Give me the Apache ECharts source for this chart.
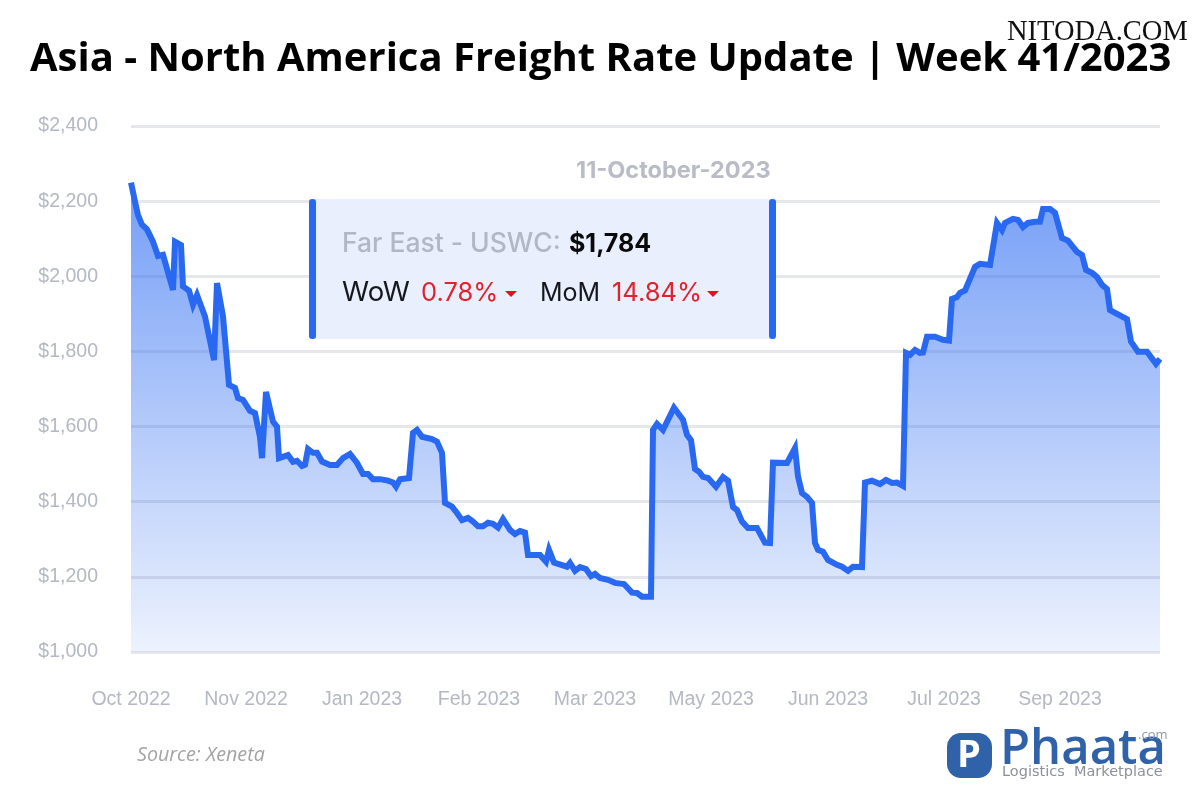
<!DOCTYPE html>
<html>
<head>
<meta charset="utf-8">
<title>Asia - North America Freight Rate Update</title>
<script src="https://cdn.jsdelivr.net/npm/echarts@6/dist/echarts.min.js"></script>
<style>
  html, body { margin: 0; background: #fff; }
  #chart { width: 1200px; height: 800px; }
</style>
</head>
<body>
<div id="chart"></div>
<script>
// position along the x axis (trading sessions since Oct 2022), one per rate
const sessions = [
  0,1,1.75,2.75,4,5.5,6.75,8,10.5,11,12.5,13,14.5,15.5,16.5,18.5,20.75,21.5,23,24.5,
  26,26.75,28,29.75,31,32.25,32.75,33.25,33.75,35.5,36.5,37,39.25,40.5,41.5,42.75,43.5,44.25,45.5,46.5,
  47.75,49.75,51.5,53,54.75,56.5,58,59.25,60.5,62.25,64.25,65.5,66.25,67.25,69.5,70.5,71.5,72.75,75.25,76.5,
  77.75,78.5,79,80.25,81.5,82.75,84.25,85.5,86.75,88,89.25,90.5,91.75,93,94.75,96,97.25,98.5,99.25,102.25,
  103.75,104.5,105.75,109,109.75,111,112.25,113.75,115,116,117.25,119.25,121,123.25,125.25,126.5,127.75,130,130.5,131.5,
  133,135.75,138,139,140,141,142,143,144.25,146.25,148,149.25,150.5,151.5,152.75,154.25,156.5,158.5,159.75,160.5,
  164,166,166.75,167.75,169,170.25,171,171.75,173,174.25,176.5,177.75,179.25,180.5,182.75,183.5,185.25,187.25,188.75,190.25,
  191.5,193,193.75,194.75,196,197.25,198,199,201,203,204.5,205.25,206.5,207.25,208.5,211,212.25,214.75,216.5,217.75,
  218.5,220.5,221.75,223,224.25,226,227.25,228,229.75,231,232.75,234.25,236.5,237.75,238.75,240.25,241.5,242.75,244,244.75,
  246.5,249,250,251.75,254,256.25,257.25
];
const rates = [
  2249,2199,2163,2137,2125,2092,2054,2057,1964,2092,2083,1973,1962,1924,1950,1893,1777,1982,1893,1711,
  1703,1676,1671,1642,1636,1572,1516,1516,1692,1613,1600,1516,1524,1506,1509,1495,1498,1540,1530,1530,
  1507,1498,1498,1516,1527,1503,1474,1474,1460,1460,1456,1451,1440,1460,1463,1583,1591,1573,1567,1560,
  1530,1397,1394,1387,1370,1351,1357,1347,1335,1335,1344,1341,1331,1354,1325,1314,1322,1318,1258,1258,
  1240,1272,1238,1227,1237,1216,1226,1221,1202,1208,1197,1192,1184,1181,1158,1157,1147,1147,1591,1607,
  1591,1650,1618,1578,1564,1487,1480,1466,1463,1440,1466,1456,1386,1378,1347,1330,1330,1291,1290,1504,
  1503,1543,1467,1423,1413,1397,1290,1272,1267,1245,1232,1227,1216,1227,1226,1451,1456,1447,1458,1450,
  1451,1442,1796,1791,1804,1796,1797,1839,1839,1831,1829,1940,1945,1956,1962,2025,2033,2030,2142,2123,
  2142,2153,2150,2131,2142,2145,2145,2179,2179,2169,2102,2095,2065,2057,2017,2009,1998,1977,1966,1910,
  1900,1886,1826,1799,1799,1767,1780
];
const tickSessions = [0, 28.75, 57.75, 87, 116, 145, 174.25, 203.25, 232.25];
const tickLabels = ["Oct 2022", "Nov 2022", "Jan 2023", "Feb 2023", "Mar 2023", "May 2023", "Jun 2023", "Jul 2023", "Sep 2023"];

const BLUE = "#2969f2";
const POP = "Inter, 'Noto Sans', sans-serif";

const chart = echarts.init(document.getElementById("chart"));

function label(x, y, text, size, color, weight, family, style) {
  return {
    type: "text", x: x, y: y, z: 20,
    style: {
      text: text, fontSize: size, fill: color, fontWeight: weight || 400,
      fontStyle: style || "normal",
      fontFamily: family || POP, textVerticalAlign: "middle"
    }
  };
}

function bar(x) {
  return { type: "rect", z: 15, shape: { x: x, y: 199, width: 7, height: 140, r: 3 }, style: { fill: BLUE } };
}

function caret(x) {
  return {
    type: "polygon", z: 20,
    shape: { points: [[x, 291], [x + 12, 291], [x + 6, 297]] },
    style: { fill: "#e0141e" }
  };
}

chart.setOption({
  animation: false,
  backgroundColor: "#fff",
  grid: { left: 131, right: 40, top: 126, bottom: 148 },
  xAxis: {
    type: "value",
    min: 0,
    max: 257.25,
    splitLine: { show: false },
    axisLine: { show: false },
    axisTick: { show: false },
    axisLabel: {
      customValues: tickSessions,
      formatter: (v) => tickLabels[tickSessions.indexOf(v)],
      color: "#b4b8c2",
      fontSize: 19.5,
      fontFamily: "'Liberation Sans', Arial, sans-serif",
      margin: 38
    }
  },
  yAxis: {
    type: "value",
    min: 1000,
    max: 2400,
    interval: 200,
    axisLine: { show: false },
    axisTick: { show: false },
    splitLine: { lineStyle: { color: "#e6e7eb", width: 3 } },
    axisLabel: {
      formatter: (v) => "$" + v.toLocaleString("en-US"),
      color: "#b4b8c2",
      fontSize: 19.5,
      fontFamily: "'Liberation Sans', Arial, sans-serif",
      margin: 33
    }
  },
  series: [
    {
      type: "line",
      data: sessions.map((s, i) => [s, rates[i]]),
      symbol: "none",
      lineStyle: { color: BLUE, width: 6, join: "miter", miterLimit: 6 },
      areaStyle: {
        color: new echarts.graphic.LinearGradient(0, 0, 0, 1, [
          { offset: 0, color: "rgba(41,105,242,0.92)" },
          { offset: 1, color: "rgba(41,105,242,0.12)" }
        ])
      }
    }
  ],
  graphic: [
    label(30, 60, "Asia - North America Freight Rate Update | Week 41/2023", 40, "#000", 700, "'Open Sans', sans-serif"),
    {
      type: "text", x: 1007, y: 33, z: 30,
      style: {
        text: "NITODA.COM", fontSize: 28.5, fill: "#111", fontFamily: "'Liberation Serif', serif",
        stroke: "#fff", lineWidth: 1, textVerticalAlign: "middle"
      }
    },
    label(576, 171, "11-October-2023", 23.5, "#b9bcc7", 700),
    { type: "rect", z: 14, shape: { x: 312, y: 199, width: 461, height: 140 }, style: { fill: "#e9effd" } },
    bar(309), bar(769),
    label(342, 244, "Far East - USWC:", 26.5, "#b2b7c4", 500),
    label(569, 244, "$1,784", 25, "#0a0a0a", 700),
    label(342, 293, "WoW", 27.5, "#15171c", 400),
    label(421, 293, "0.78%", 25.5, "#e0222c", 400),
    caret(505),
    label(540, 293, "MoM", 25, "#15171c", 400),
    label(612, 293, "14.84%", 25.5, "#e0222c", 400),
    caret(707),
    label(137, 755, "Source: Xeneta", 19.7, "#a3a3a3", 400, "'Open Sans', sans-serif", "italic"),
    { type: "rect", z: 10, shape: { x: 947, y: 733, width: 45, height: 45, r: 14 }, style: { fill: "#2f62a8" } },
    label(957, 756, "P", 38, "#fff", 700, "'Open Sans', sans-serif"),
    label(1000, 750, "Phaata", 49, "#2f62a8", 600, "'Open Sans', sans-serif"),
    label(1138, 735, ".com", 13, "#8f96a3", 400, "'Open Sans', sans-serif"),
    label(1002, 772, "Logistics  Marketplace", 14.5, "#8b919c", 400, "'DejaVu Sans', sans-serif")
  ]
});
</script>
</body>
</html>
